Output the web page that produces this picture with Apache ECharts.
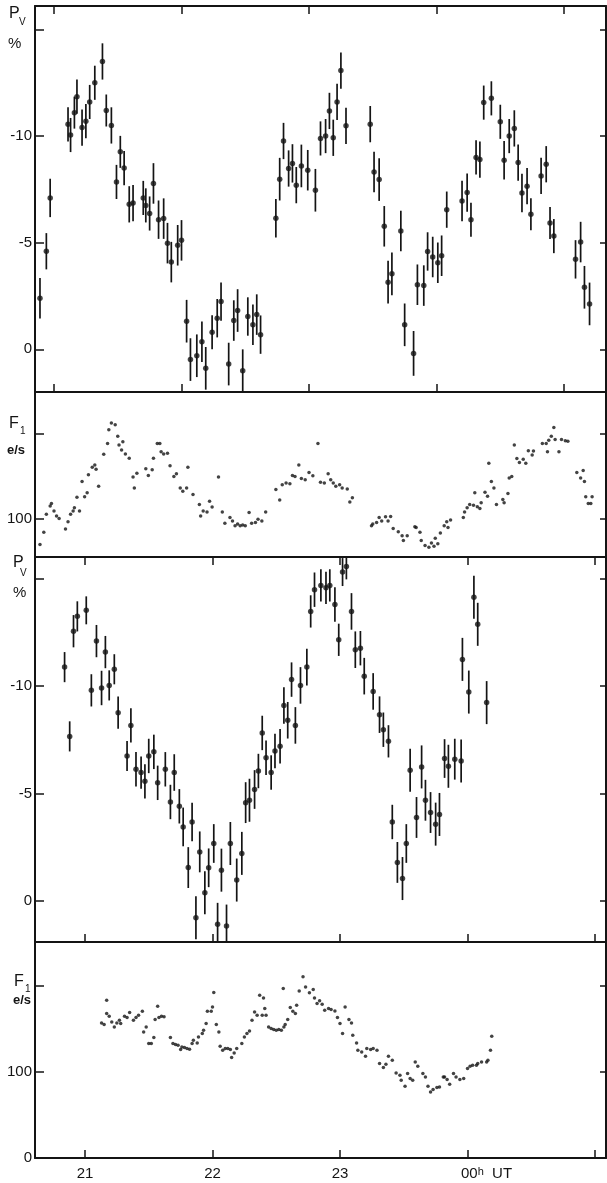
<!DOCTYPE html>
<html>
<head>
<meta charset="utf-8">
<script src="https://cdn.jsdelivr.net/npm/echarts@6/dist/echarts.min.js"></script>
<style>
  html, body { margin: 0; padding: 0; background: #fff; }
  #chart { width: 607px; height: 1183px; }
</style>
</head>
<body>
<div id="chart"></div>
<script>
// hour ticks (top pair of panels has its own time base, unlabelled)
var hourTicks = [21, 22, 23, 24, 25];
var hourLabels = [21, 22, 23, 24];

// panel 1 : P_V (%) with error bars
var p1Hour = [20.89, 20.94, 20.97, 21.11, 21.13, 21.16, 21.18, 21.22, 21.25, 21.28,
  21.32, 21.38, 21.41, 21.45, 21.49, 21.52, 21.55, 21.59, 21.62, 21.70,
  21.72, 21.75, 21.78, 21.82, 21.86, 21.89, 21.92, 21.97, 22.00, 22.04,
  22.07, 22.12, 22.16, 22.19, 22.24, 22.28, 22.31, 22.37, 22.41, 22.44,
  22.48, 22.52, 22.56, 22.59, 22.62, 22.74, 22.77, 22.80, 22.84, 22.87,
  22.90, 22.94, 22.99, 23.05, 23.09, 23.13, 23.16, 23.19, 23.22, 23.25,
  23.29, 23.48, 23.51, 23.55, 23.59, 23.62, 23.65, 23.72, 23.75, 23.82,
  23.85, 23.90, 23.93, 23.97, 24.01, 24.04, 24.08, 24.20, 24.24, 24.27,
  24.31, 24.34, 24.37, 24.43, 24.50, 24.53, 24.57, 24.61, 24.64, 24.67,
  24.71, 24.74, 24.82, 24.86, 24.89, 24.92, 25.09, 25.13, 25.16, 25.20];
var p1Pol = [-2.4, -4.6, -7.1, -10.55, -10.05, -11.1, -11.85, -10.4, -10.7, -11.6,
  -12.5, -13.5, -11.2, -10.5, -7.85, -9.26, -8.5, -6.8, -6.86, -7.1,
  -6.75, -6.37, -7.78, -6.08, -6.13, -4.98, -4.09, -4.88, -5.11, -1.32,
  0.48, 0.3, -0.36, 0.89, -0.8, -1.46, -2.24, 0.69, -1.35, -1.82,
  1.0, -1.54, -1.15, -1.63, -0.69, -6.15, -7.98, -9.77, -8.48, -8.72,
  -7.7, -8.6, -8.4, -7.46, -9.89, -10.0, -11.18, -9.92, -11.6, -13.07,
  -10.48, -10.56, -8.32, -7.96, -5.77, -3.15, -3.54, -5.55, -1.15, 0.19,
  -3.03, -2.99, -4.59, -4.33, -4.06, -4.39, -6.55, -6.96, -7.35, -6.08,
  -9.0, -8.9, -11.57, -11.77, -10.67, -8.87, -10.0, -10.36, -8.76, -7.33,
  -7.65, -6.33, -8.13, -8.68, -5.92, -5.31, -4.22, -5.03, -2.91, -2.13];
var p1Err = [0.95, 0.85, 0.9, 0.8, 0.8, 0.75, 0.8, 0.85, 0.8, 0.8,
  0.8, 0.85, 0.75, 0.85, 0.8, 0.75, 0.8, 0.85, 0.85, 0.8,
  0.8, 0.8, 0.95, 0.9, 0.95, 0.95, 0.95, 0.95, 0.95, 1.0,
  1.0, 1.0, 0.95, 1.0, 0.8, 0.9, 0.9, 1.0, 0.95, 1.0,
  1.0, 0.9, 0.95, 0.95, 0.9, 0.9, 1.0, 0.85, 0.85, 0.9,
  0.85, 1.0, 0.95, 1.0, 0.8, 0.8, 0.85, 0.85, 0.85, 0.85,
  0.85, 0.85, 0.95, 1.0, 0.95, 1.0, 1.0, 0.95, 1.0, 1.05,
  0.95, 0.95, 0.9, 0.95, 0.95, 0.95, 0.85, 0.95, 0.9, 0.8,
  0.8, 0.85, 0.8, 0.8, 0.8, 0.9, 0.8, 0.85, 0.85, 0.9,
  0.85, 0.75, 0.85, 0.85, 0.75, 0.8, 0.9, 0.95, 1.0, 1.0];

// panel 2 : F_1 count rate (e/s)
var f1aHour = [20.89, 20.92, 20.94, 20.97, 20.98, 21.00, 21.02, 21.04, 21.09, 21.11,
  21.13, 21.15, 21.16, 21.18, 21.20, 21.22, 21.24, 21.26, 21.27, 21.30,
  21.32, 21.33, 21.35, 21.39, 21.42, 21.43, 21.45, 21.48, 21.50, 21.51,
  21.53, 21.54, 21.56, 21.59, 21.62, 21.63, 21.65, 21.72, 21.74, 21.77,
  21.78, 21.81, 21.83, 21.84, 21.86, 21.89, 21.91, 21.94, 21.96, 21.99,
  22.01, 22.04, 22.05, 22.09, 22.14, 22.15, 22.17, 22.20, 22.22, 22.24,
  22.29, 22.32, 22.34, 22.38, 22.40, 22.42, 22.44, 22.46, 22.48, 22.50,
  22.53, 22.55, 22.58, 22.60, 22.63, 22.66, 22.74, 22.77, 22.79, 22.82,
  22.85, 22.87, 22.89, 22.92, 22.94, 22.97, 23.00, 23.03, 23.07, 23.09,
  23.12, 23.15, 23.17, 23.19, 23.21, 23.24, 23.26, 23.30, 23.32, 23.34,
  23.49, 23.50, 23.53, 23.55, 23.57, 23.60, 23.62, 23.64, 23.66, 23.70,
  23.73, 23.74, 23.77, 23.83, 23.84, 23.87, 23.88, 23.91, 23.94, 23.96,
  23.98, 23.99, 24.01, 24.03, 24.06, 24.08, 24.09, 24.11, 24.21, 24.22,
  24.24, 24.26, 24.29, 24.30, 24.32, 24.34, 24.35, 24.38, 24.40, 24.41,
  24.43, 24.45, 24.47, 24.52, 24.53, 24.56, 24.57, 24.59, 24.61, 24.63,
  24.65, 24.68, 24.70, 24.72, 24.75, 24.76, 24.83, 24.86, 24.87, 24.88,
  24.90, 24.92, 24.93, 24.96, 24.98, 25.01, 25.03, 25.10, 25.13, 25.15,
  25.16, 25.17, 25.19, 25.21, 25.22];
var f1aRate = [70.5, 84.7, 105.7, 115.3, 118.4, 109.6, 103.8, 100.8, 88.5, 96.9,
  105.7, 109.6, 113.4, 125.6, 109.6, 144, 126, 130.7, 151.7, 160.5,
  163.2, 158.2, 138.3, 175.5, 188.1, 204.2, 211.8, 209.9, 196.5, 186.2,
  180.5, 190, 175.9, 170.9, 149.1, 136.4, 153.6, 158.6, 150.9, 157.5,
  170.9, 188.1, 188.1, 178.5, 175.9, 176.7, 162.1, 149.8, 152.9, 136.4,
  132.6, 136.4, 160.5, 128.7, 117.2, 103.8, 109.6, 108.4, 121, 114.1,
  149, 108.4, 95.4, 102, 98, 92.3, 94.3, 92.3, 93.1, 92.3,
  107.7, 95.4, 96.2, 100, 98, 108.4, 134.5, 122.2, 140.2, 142.1,
  141.3, 150.9, 149.8, 163.2, 147.3, 146, 154.4, 150.6, 188.1, 142.9,
  142.1, 152.9, 146, 142.1, 138.3, 140.2, 136.4, 135.2, 119.9, 124.9,
  92.3, 94.3, 96.2, 102, 98, 102.7, 98, 103.1, 89.3, 85.4,
  80.8, 75.1, 80.8, 91.1, 90.4, 84.7, 75.1, 69.3, 67.4, 72.4,
  68.6, 77.8, 71.3, 83.9, 92.3, 96.9, 90.4, 99.2, 102, 108.4,
  113.4, 117.2, 116.1, 130.7, 114.6, 112.3, 119.2, 131.4, 126.8, 165.1,
  144, 136.4, 117.2, 122.9, 119.2, 129.9, 147.9, 149.8, 186.2, 170.5,
  165.9, 169.8, 165.1, 179.7, 174.7, 179.3, 188.1, 188.1, 178.5, 192,
  196.5, 206.6, 192.8, 178.5, 192.8, 191.2, 190.8, 154.4, 147.9, 156.7,
  144, 126, 118.4, 118.4, 126];

// panel 3 : P_V (%) with error bars, second night
var p3Hour = [20.84, 20.88, 20.91, 20.94, 21.01, 21.05, 21.09, 21.13, 21.16, 21.19,
  21.23, 21.26, 21.33, 21.36, 21.40, 21.44, 21.47, 21.50, 21.54, 21.57,
  21.63, 21.67, 21.70, 21.74, 21.77, 21.81, 21.84, 21.87, 21.90, 21.94,
  21.97, 22.01, 22.04, 22.07, 22.11, 22.14, 22.19, 22.23, 22.26, 22.29,
  22.33, 22.36, 22.39, 22.42, 22.46, 22.49, 22.53, 22.56, 22.59, 22.62,
  22.65, 22.69, 22.74, 22.77, 22.80, 22.85, 22.89, 22.92, 22.96, 22.99,
  23.02, 23.05, 23.09, 23.12, 23.16, 23.19, 23.26, 23.31, 23.34, 23.38,
  23.41, 23.45, 23.49, 23.52, 23.55, 23.60, 23.64, 23.67, 23.71, 23.75,
  23.78, 23.82, 23.85, 23.90, 23.95, 23.96, 24.01, 24.05, 24.08, 24.15];
var p3Pol = [-10.88, -7.66, -12.55, -13.24, -13.52, -9.8, -12.09, -9.91, -11.58, -10.03,
  -10.78, -8.76, -6.75, -8.17, -6.13, -5.98, -5.57, -6.75, -6.94, -5.5,
  -6.13, -4.61, -5.98, -4.41, -3.45, -1.56, -3.68, 0.77, -2.29, -0.39,
  -1.55, -2.68, 1.08, -1.44, 1.16, -2.68, -0.98, -2.22, -4.58, -4.69,
  -5.19, -6.05, -7.82, -6.67, -5.98, -6.98, -7.2, -9.1, -8.41, -10.3,
  -8.17, -10.03, -10.88, -13.47, -14.48, -14.68, -14.57, -14.68, -13.79, -12.15,
  -15.3, -15.56, -13.47, -11.69, -11.76, -10.46, -9.75, -8.67, -7.97, -7.43,
  -3.68, -1.8, -1.05, -2.68, -6.08, -3.89, -6.24, -4.69, -4.12, -3.58,
  -4.03, -6.63, -6.27, -6.6, -6.52, -11.24, -9.72, -14.13, -12.87, -9.23];
var p3Err = [0.7, 0.7, 0.75, 0.7, 0.65, 0.75, 0.75, 0.8, 0.75, 0.7,
  0.7, 0.75, 0.7, 0.8, 0.8, 0.75, 0.8, 0.8, 0.8, 0.8,
  0.8, 0.8, 0.85, 0.8, 0.9, 0.95, 0.9, 1.0, 0.95, 1.0,
  0.9, 0.9, 1.0, 1.0, 1.0, 1.0, 1.0, 1.0, 0.95, 1.0,
  0.9, 0.8, 0.8, 0.8, 0.8, 0.8, 0.8, 0.85, 0.85, 0.8,
  0.85, 0.85, 0.85, 0.75, 0.8, 0.75, 0.75, 0.75, 0.8, 0.75,
  0.65, 0.6, 0.85, 0.85, 0.8, 0.85, 0.85, 0.85, 0.8, 0.75,
  0.8, 0.95, 1.0, 0.9, 1.0, 0.95, 1.0, 0.95, 0.95, 1.0,
  1.0, 0.9, 1.0, 0.95, 1.0, 1.0, 1.0, 1.0, 1.0, 1.0];

// panel 4 : F_1 count rate (e/s), second night
var f1bHour = [21.13, 21.15, 21.17, 21.17, 21.19, 21.21, 21.23, 21.25, 21.27, 21.28,
  21.31, 21.33, 21.35, 21.38, 21.40, 21.42, 21.45, 21.46, 21.48, 21.50,
  21.52, 21.54, 21.55, 21.57, 21.58, 21.60, 21.62, 21.67, 21.69, 21.71,
  21.73, 21.75, 21.76, 21.78, 21.80, 21.82, 21.84, 21.85, 21.88, 21.89,
  21.92, 21.93, 21.95, 21.96, 21.99, 22.00, 22.01, 22.03, 22.05, 22.06,
  22.08, 22.10, 22.12, 22.14, 22.15, 22.17, 22.19, 22.23, 22.25, 22.27,
  22.29, 22.31, 22.33, 22.35, 22.37, 22.39, 22.40, 22.41, 22.42, 22.44,
  22.46, 22.48, 22.50, 22.52, 22.54, 22.555, 22.56, 22.57, 22.59, 22.61,
  22.63, 22.65, 22.66, 22.68, 22.71, 22.73, 22.76, 22.79, 22.80, 22.82,
  22.84, 22.86, 22.88, 22.91, 22.93, 22.96, 22.98, 23.00, 23.02, 23.04,
  23.07, 23.09, 23.10, 23.13, 23.14, 23.17, 23.20, 23.21, 23.24, 23.26,
  23.29, 23.31, 23.34, 23.36, 23.38, 23.41, 23.44, 23.47, 23.48, 23.51,
  23.53, 23.55, 23.57, 23.59, 23.61, 23.65, 23.67, 23.69, 23.71, 23.73,
  23.76, 23.78, 23.81, 23.82, 23.84, 23.86, 23.89, 23.91, 23.94, 23.97,
  24.00, 24.02, 24.04, 24.07, 24.08, 24.11, 24.15, 24.16, 24.18, 24.19];
var f1bRate = [157, 155.1, 167.9, 183.4, 164.8, 158.1, 152.3, 157, 160.1, 156.3,
  164.8, 163.3, 169.1, 160.1, 163.3, 165.9, 170.6, 146.5, 152.3, 133,
  133, 140, 160.9, 176.4, 163.3, 164.8, 164, 140, 133, 131.9,
  131, 126, 129.1, 128.4, 127.2, 126.4, 133, 136.9, 133.7, 140.7,
  144.7, 148.5, 156.3, 170.6, 170.6, 175.6, 192.3, 155.1, 146.5, 129.9,
  125.2, 127.2, 127.2, 126, 116.7, 122.1, 127.2, 133, 140.7, 144.7,
  147.7, 160.1, 169.8, 165.9, 189.2, 165.9, 186, 173.7, 165.9, 152.3,
  150.5, 149.3, 148.5, 149.3, 148.5, 197, 152.3, 155.1, 160.9, 174.9,
  170.6, 167.9, 177.6, 194.2, 210.5, 198.8, 191.9, 195.8, 186, 179.5,
  182.6, 178.7, 171.7, 173.7, 172.6, 170.9, 163.3, 156.3, 144.7, 175.6,
  160.9, 157, 142.7, 133.7, 125.2, 123.3, 118.3, 127.2, 126, 127.2,
  125.2, 109.8, 105.1, 109, 118.3, 113.6, 98.8, 96.2, 90.3, 83.4,
  98.1, 92.3, 90.3, 111.6, 106.6, 98.1, 94.2, 83.4, 76.7, 79.5,
  81.9, 82.6, 94.2, 94.2, 91.2, 85.7, 98.1, 94.2, 91.2, 92.3,
  104, 106.6, 107.8, 107.8, 109.8, 111.6, 111.6, 113.6, 125.2, 141.5];

var ink = '#141414';
var font = 'Liberation Sans';

function zip3(a, b, c) {
  return a.map(function (t, i) { return c ? [t, b[i], c[i]] : [t, b[i]]; });
}

function xPair(g, min, max, topTicks, bottomTicks, labels) {
  var base = {
    gridIndex: g, type: 'value', min: min, max: max,
    axisLine: { show: true, onZero: false, lineStyle: { color: ink, width: 2 } },
    splitLine: { show: false }
  };
  var bottom = Object.assign({}, base, {
    position: 'bottom',
    axisTick: { show: !!bottomTicks, inside: true, length: 8, customValues: bottomTicks || [],
      lineStyle: { color: ink, width: 1.5 } },
    axisLabel: labels ? {
      show: true, customValues: labels, margin: 8, color: ink,
      fontFamily: font, fontSize: 15,
      formatter: function (v) { return v === 24 ? '{pad|}00{h|h}  UT' : String(v); },
      rich: { pad: { width: 38 }, h: { fontSize: 11, verticalAlign: 'top', fontFamily: font, color: ink } }
    } : { show: false }
  });
  var top = Object.assign({}, base, {
    position: 'top',
    axisTick: { show: !!topTicks, inside: true, length: 8, customValues: topTicks || [],
      lineStyle: { color: ink, width: 1.5 } },
    axisLabel: { show: false }
  });
  return [bottom, top];
}

function yPair(g, min, max, inv, ticks, labels) {
  var base = {
    gridIndex: g, type: 'value', min: min, max: max, inverse: inv,
    axisLine: { show: true, onZero: false, lineStyle: { color: ink, width: 2 } },
    splitLine: { show: false }
  };
  var left = Object.assign({}, base, {
    position: 'left',
    axisTick: { show: true, inside: true, length: 9, customValues: ticks, lineStyle: { color: ink, width: 1.5 } },
    axisLabel: { show: true, customValues: labels, margin: 3, color: ink, fontFamily: font, fontSize: 15 }
  });
  var right = Object.assign({}, base, {
    position: 'right',
    axisTick: { show: true, inside: true, length: 6, customValues: ticks, lineStyle: { color: ink, width: 1.5 } },
    axisLabel: { show: false }
  });
  return [left, right];
}

function errorBar(params, api) {
  var a = api.coord([api.value(0), api.value(1) - api.value(2)]);
  var b = api.coord([api.value(0), api.value(1) + api.value(2)]);
  return {
    type: 'line',
    shape: { x1: a[0], y1: a[1], x2: b[0], y2: b[1] },
    style: { stroke: ink, lineWidth: 1.7 }
  };
}

var topMin = 20.851, topMax = 25.329;
var botMin = 20.608, botMax = 25.086;

var xAxes = [].concat(
  xPair(0, topMin, topMax, hourTicks, hourTicks, null),
  xPair(1, topMin, topMax, null, null, null),
  xPair(2, botMin, botMax, hourTicks, hourTicks, null),
  xPair(3, botMin, botMax, null, hourTicks, hourLabels)
);
var yAxes = [].concat(
  yPair(0, -16.1, 2.0, true, [-15, -10, -5, 0], [-10, -5, 0]),
  yPair(1, 56, 248, false, [100, 200], [100]),
  yPair(2, -16.0, 1.9, true, [-15, -10, -5, 0], [-10, -5, 0]),
  yPair(3, 0, 251, false, [0, 100, 200], [0, 100])
);

function txt(x, y, s, size, bold) {
  return { type: 'text', x: x, y: y, silent: true,
    style: { text: s, fill: ink, font: (bold ? 'bold ' : '') + size + 'px "' + font + '"' } };
}

var option = {
  animation: false,
  backgroundColor: '#ffffff',
  grid: [
    { left: 35, right: 1, top: 6, height: 386 },
    { left: 35, right: 1, top: 392, height: 165 },
    { left: 35, right: 1, top: 557, height: 385 },
    { left: 35, right: 1, top: 942, height: 216 }
  ],
  xAxis: xAxes,
  yAxis: yAxes,
  graphic: [
    txt(9, 6, 'P', 16), txt(19, 17, 'V', 10), txt(8, 36, '%', 15),
    txt(9, 416, 'F', 16), txt(20, 426, '1', 10), txt(7, 444, 'e/s', 13, true),
    txt(13, 555, 'P', 16), txt(20, 568, 'V', 10), txt(13, 585, '%', 15),
    txt(14, 974, 'F', 16), txt(25, 984, '1', 10), txt(13, 994, 'e/s', 13, true)
  ],
  series: [
    { type: 'custom', xAxisIndex: 0, yAxisIndex: 0, clip: true,
      renderItem: errorBar, data: zip3(p1Hour, p1Pol, p1Err) },
    { type: 'scatter', xAxisIndex: 0, yAxisIndex: 0, symbolSize: 5.5,
      itemStyle: { color: ink }, data: zip3(p1Hour, p1Pol) },
    { type: 'scatter', xAxisIndex: 2, yAxisIndex: 2, symbolSize: 3.5,
      itemStyle: { color: ink }, data: zip3(f1aHour, f1aRate) },
    { type: 'custom', xAxisIndex: 4, yAxisIndex: 4, clip: true,
      renderItem: errorBar, data: zip3(p3Hour, p3Pol, p3Err) },
    { type: 'scatter', xAxisIndex: 4, yAxisIndex: 4, symbolSize: 5.5,
      itemStyle: { color: ink }, data: zip3(p3Hour, p3Pol) },
    { type: 'scatter', xAxisIndex: 6, yAxisIndex: 6, symbolSize: 3.5,
      itemStyle: { color: ink }, data: zip3(f1bHour, f1bRate) }
  ]
};

var chart = echarts.init(document.getElementById('chart'), null, { renderer: 'canvas' });
chart.setOption(option);
</script>
</body>
</html>
